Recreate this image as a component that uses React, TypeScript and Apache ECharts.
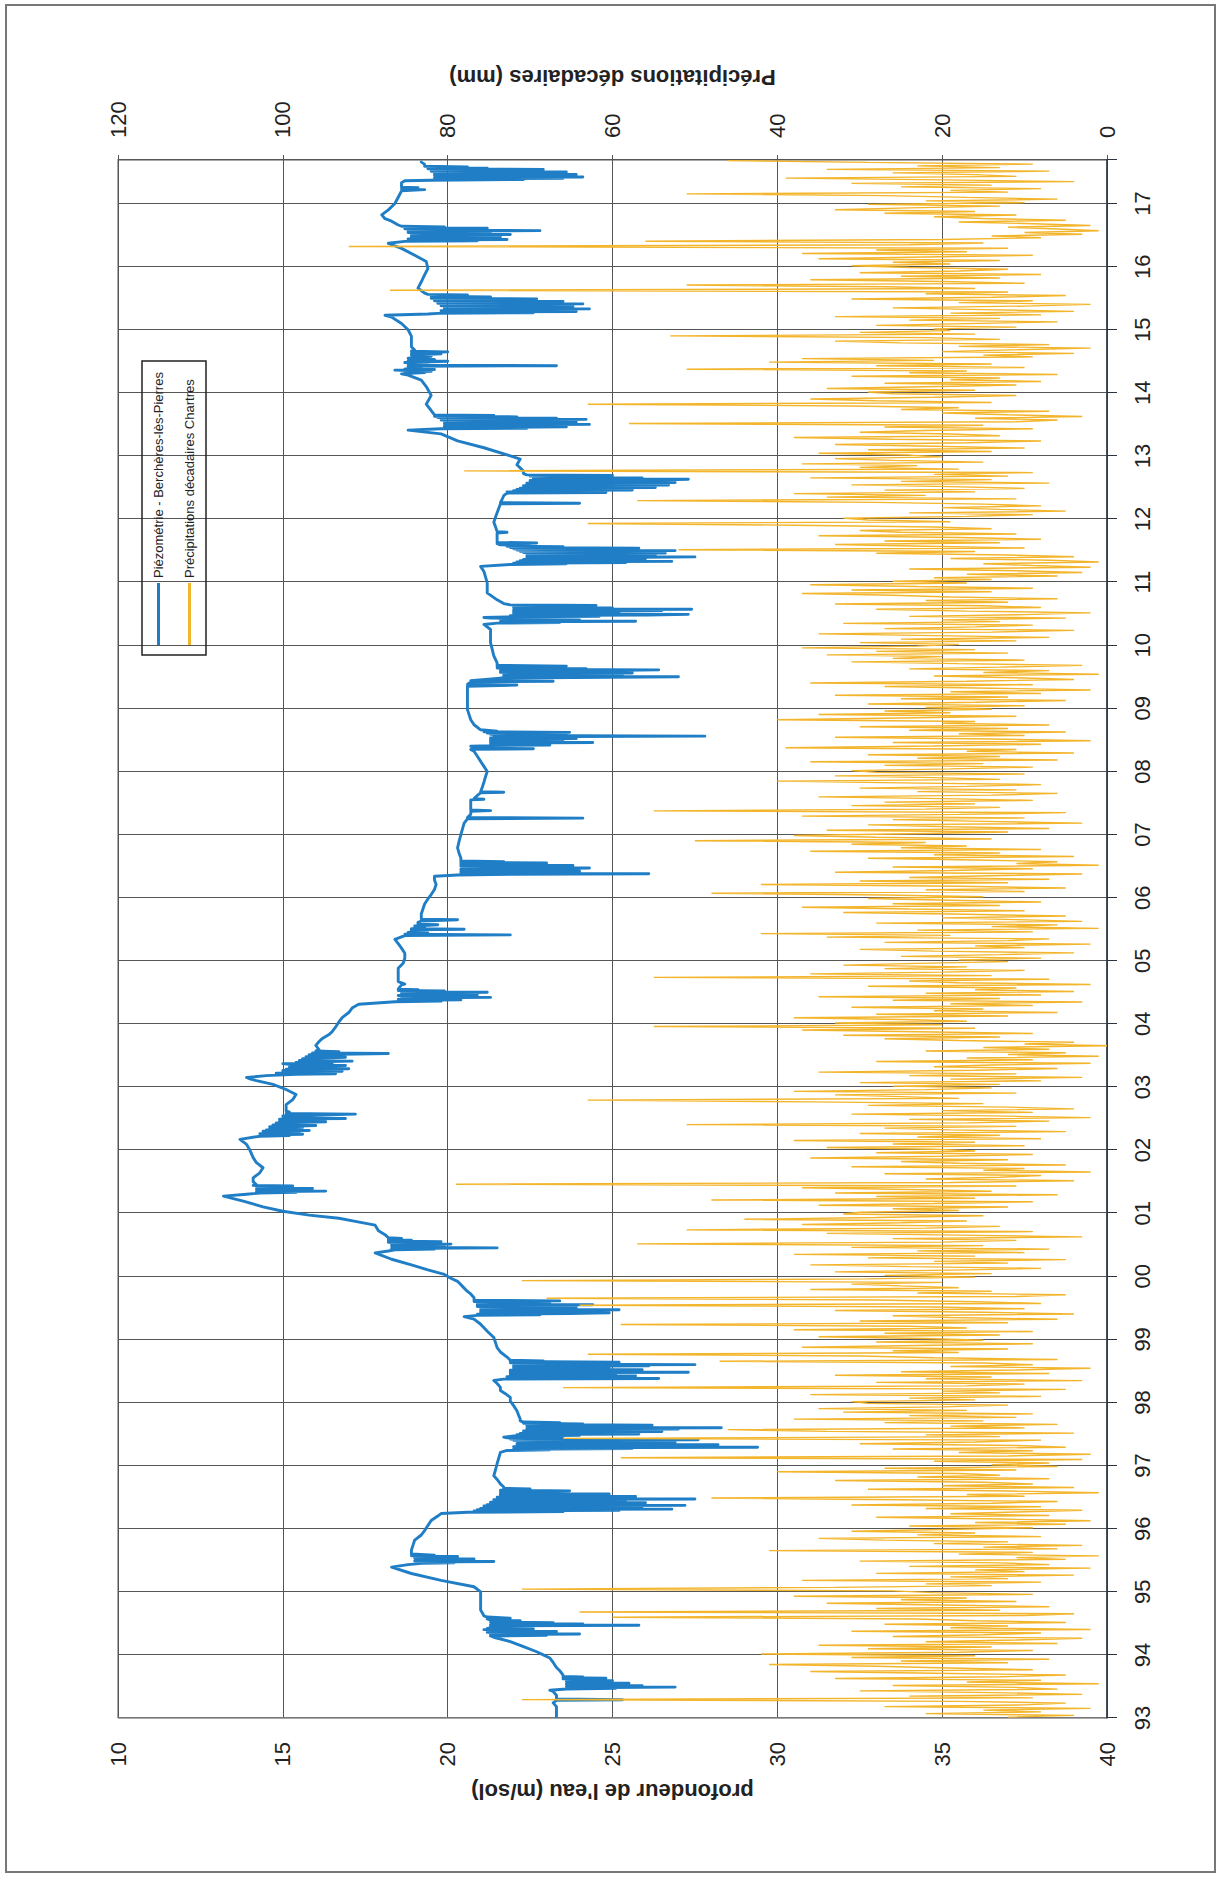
import React, { useEffect, useRef } from 'react';
import * as echarts from 'echarts';

// ---- Data ----
const SERIES_PIEZO = 'Piézométrie - Berchères-lès-Pierres';
const SERIES_PRECIP = 'Précipitations décadaires Chartres';
const DEPTH_TITLE = "profondeur de l'eau (m/sol)";
const PRECIP_TITLE = 'Précipitations décadaires (mm)';

const FIRST_YEAR = 1993;
const LAST_DATE = 2017.69;
const DECADES_PER_YEAR = 36;

// Piezometer depth [decimal year, depth m/sol]
const piezo1993_1997: [number, number][] = [
  [1993.00,23.3],[1993.05,23.3],[1993.12,23.3],[1993.18,23.3],[1993.24,23.2],[1993.28,23.3],[1993.29,25.3],[1993.30,23.3],[1993.36,23.3],[1993.42,23.2],[1993.44,23.1],
  [1993.46,23.6],[1993.47,25.1],[1993.48,23.7],[1993.49,26.9],[1993.50,23.6],[1993.51,25.9],[1993.52,23.8],[1993.53,24.6],[1993.54,23.6],[1993.55,25.5],[1993.56,23.7],[1993.57,24.2],[1993.58,23.6],[1993.59,25.0],[1993.60,23.6],[1993.61,24.4],[1993.62,23.5],[1993.63,24.8],[1993.64,23.5],[1993.65,24.1],[1993.66,23.5],[1993.68,23.5],
  [1993.75,23.4],[1993.80,23.3],[1993.88,23.2],[1993.95,23.1],[1994.00,22.9],[1994.05,22.7],[1994.13,22.3],[1994.21,21.9],[1994.28,21.4],
  [1994.30,21.3],[1994.31,23.0],[1994.32,21.3],[1994.33,24.0],[1994.34,21.4],[1994.35,22.4],[1994.36,21.2],[1994.37,23.3],[1994.38,21.2],[1994.39,21.9],[1994.40,21.1],[1994.41,22.6],[1994.42,21.2],[1994.44,21.4],[1994.46,21.3],[1994.47,25.8],[1994.48,21.3],[1994.49,24.1],[1994.50,21.4],[1994.51,23.2],[1994.52,21.3],[1994.54,22.2],[1994.55,21.3],[1994.57,21.2],[1994.58,21.9],[1994.60,21.2],[1994.62,21.1],
  [1994.71,21.0],[1994.80,21.0],[1994.87,21.0],[1995.00,21.0],[1995.08,20.8],[1995.18,19.8],[1995.29,18.9],[1995.39,18.3],
  [1995.43,18.8],[1995.45,19.2],[1995.46,20.2],[1995.47,19.1],[1995.48,21.4],[1995.49,19.0],[1995.50,20.5],[1995.51,19.1],[1995.52,20.8],[1995.53,19.0],[1995.54,19.9],[1995.55,19.0],[1995.56,20.3],[1995.57,18.9],[1995.58,19.6],[1995.60,18.9],[1995.62,18.9],
  [1995.66,18.9],[1995.74,18.95],[1995.82,19.0],[1995.90,19.2],[1995.97,19.3],[1996.05,19.4],[1996.13,19.5],[1996.20,19.7],[1996.24,19.8],
  [1996.26,20.6],[1996.27,23.5],[1996.28,20.8],[1996.29,25.2],[1996.30,20.9],[1996.31,26.8],[1996.32,21.0],[1996.33,24.3],[1996.34,21.1],[1996.35,25.9],[1996.36,21.1],[1996.37,27.2],[1996.38,21.2],[1996.39,24.8],[1996.40,21.3],[1996.41,26.0],[1996.42,21.3],[1996.43,23.9],[1996.44,21.4],[1996.45,25.4],[1996.46,21.4],[1996.47,27.5],[1996.48,21.5],[1996.49,24.6],[1996.50,21.5],[1996.51,25.7],[1996.52,21.6],[1996.53,23.2],[1996.54,21.6],[1996.55,24.9],[1996.56,21.6],[1996.57,22.8],[1996.58,21.6],[1996.60,23.7],[1996.61,21.6],[1996.63,22.5],[1996.64,21.7],[1996.66,21.7],
  [1996.71,21.6],[1996.78,21.5],[1996.84,21.4],[1996.93,21.45],[1997.03,21.5],[1997.12,21.55],[1997.21,21.6],
  [1997.24,21.8],[1997.25,23.1],[1997.26,22.0],[1997.27,25.6],[1997.28,22.1],[1997.29,29.4],[1997.30,22.0],[1997.31,26.4],[1997.32,22.2],[1997.33,28.2],[1997.34,22.1],[1997.35,24.7],[1997.36,22.2],[1997.37,26.9],[1997.38,22.1],[1997.39,24.2],[1997.40,22.0],[1997.41,27.6],[1997.42,21.9],[1997.43,23.5],[1997.44,21.8],[1997.45,21.7],[1997.47,22.0],[1997.48,24.0],[1997.49,22.1],[1997.50,25.8],[1997.51,22.2],[1997.52,23.6],[1997.53,22.3],[1997.54,26.5],[1997.55,22.3],[1997.56,24.9],[1997.57,22.4],[1997.58,27.0],[1997.59,22.4],[1997.60,28.3],[1997.61,22.5],[1997.62,25.3],[1997.63,22.4],[1997.64,26.2],[1997.65,22.4],[1997.66,24.1],[1997.67,22.3],[1997.68,23.4],[1997.69,22.3],[1997.71,22.2],
  [1997.74,22.2],[1997.80,22.15],[1997.87,22.1],[1997.95,22.0]
];

const piezo1998_2002: [number, number][] = [
  [1998.02,21.9],[1998.08,21.9],[1998.14,21.75],[1998.19,21.6],[1998.24,21.6],[1998.30,21.5],[1998.35,21.4],
  [1998.37,21.7],[1998.38,26.4],[1998.39,21.8],[1998.40,24.6],[1998.41,21.8],[1998.42,25.7],[1998.43,21.9],[1998.44,23.8],[1998.45,21.9],[1998.46,25.1],[1998.47,21.9],[1998.48,27.3],[1998.49,21.9],[1998.50,24.2],[1998.51,21.9],[1998.52,25.9],[1998.53,22.0],[1998.54,23.4],[1998.55,22.0],[1998.56,24.9],[1998.57,22.0],[1998.58,26.1],[1998.59,22.0],[1998.60,27.5],[1998.61,22.0],[1998.62,24.4],[1998.63,21.9],[1998.64,25.2],[1998.65,21.9],[1998.66,22.9],[1998.67,21.9],
  [1998.72,21.8],[1998.80,21.6],[1998.87,21.5],[1998.95,21.45],[1999.03,21.4],[1999.13,21.2],[1999.24,21.0],[1999.32,20.8],[1999.36,20.5],
  [1999.38,20.9],[1999.39,22.8],[1999.40,20.9],[1999.41,23.7],[1999.42,24.9],[1999.43,21.0],[1999.44,23.2],[1999.45,21.0],[1999.46,24.1],[1999.47,25.2],[1999.48,21.0],[1999.49,22.6],[1999.50,21.0],[1999.51,23.9],[1999.52,20.9],[1999.53,22.4],[1999.54,20.9],[1999.55,24.4],[1999.56,20.9],[1999.57,23.1],[1999.58,20.9],[1999.59,22.2],[1999.60,20.8],[1999.61,23.4],[1999.62,20.8],[1999.64,20.8],
  [1999.66,20.8],[1999.72,20.7],[1999.76,20.6],[1999.84,20.45],[1999.92,20.3],[1999.98,20.05],[2000.03,19.9],[2000.10,19.4],[2000.18,18.9],[2000.27,18.3],[2000.37,17.8],
  [2000.40,18.2],[2000.42,18.4],[2000.43,19.6],[2000.44,18.3],[2000.45,21.5],[2000.46,18.4],[2000.47,19.9],[2000.48,18.3],[2000.49,19.2],[2000.50,18.3],[2000.51,20.1],[2000.52,18.3],[2000.53,19.4],[2000.54,18.2],[2000.55,19.8],[2000.56,18.2],[2000.57,18.9],[2000.58,18.2],[2000.60,18.6],[2000.61,18.2],
  [2000.66,18.1],[2000.72,17.9],[2000.81,17.8],[2000.87,17.2],[2000.92,16.7],[2000.97,15.8],[2001.03,15.0],[2001.10,14.4],[2001.19,13.8],[2001.23,13.5],[2001.27,13.2],
  [2001.30,13.9],[2001.32,14.3],[2001.33,15.4],[2001.34,14.2],[2001.35,16.3],[2001.36,14.3],[2001.37,15.1],[2001.38,14.2],[2001.39,15.9],[2001.40,14.3],[2001.41,14.8],[2001.42,14.2],[2001.43,15.3],[2001.44,14.1],[2001.45,14.2],
  [2001.50,14.1],[2001.56,14.1],[2001.64,14.3],[2001.72,14.4],[2001.80,14.2],[2001.88,14.1],[2002.00,14.0],[2002.09,13.9],[2002.17,13.7],
  [2002.22,14.3],[2002.23,15.2],[2002.24,14.4],[2002.25,15.6],[2002.26,14.3],[2002.27,15.0],[2002.28,14.5],[2002.29,15.5],[2002.30,14.4],[2002.31,15.8],[2002.32,14.5],[2002.33,15.1],[2002.34,14.6],[2002.36,15.6],[2002.37,14.6],[2002.39,16.0],[2002.40,14.7],[2002.42,15.2],[2002.43,14.8],[2002.45,16.3],[2002.46,14.9],[2002.48,15.5],[2002.49,14.9],[2002.50,16.9],[2002.51,15.0],[2002.53,15.8],[2002.54,15.0],[2002.56,16.4],[2002.57,17.2],[2002.58,15.1],[2002.60,15.2],
  [2002.62,15.1],[2002.72,15.1],[2002.80,15.3],[2002.88,15.4],[2002.96,15.1]
];

const piezo2003_2007: [number, number][] = [
  [2003.04,14.7],[2003.10,14.2],[2003.13,14.0],[2003.15,13.9],
  [2003.18,14.5],[2003.20,15.4],[2003.21,16.6],[2003.22,14.8],[2003.23,16.2],[2003.24,15.0],[2003.25,16.8],[2003.26,15.0],[2003.27,16.4],[2003.28,15.1],[2003.29,17.0],[2003.30,15.2],[2003.31,16.1],[2003.32,15.2],[2003.34,16.9],[2003.35,15.3],[2003.37,15.0],[2003.38,16.5],[2003.39,15.4],[2003.41,17.1],[2003.42,15.5],[2003.44,16.3],[2003.45,15.6],[2003.47,16.9],[2003.48,15.7],[2003.50,16.4],[2003.51,15.8],[2003.53,18.2],[2003.54,15.9],[2003.56,16.7],[2003.57,16.0],[2003.59,16.1],
  [2003.66,16.0],[2003.72,16.1],[2003.77,16.2],[2003.83,16.4],[2003.88,16.5],[2003.95,16.6],[2004.03,16.7],[2004.10,16.8],[2004.18,17.0],[2004.25,17.1],[2004.31,17.3],
  [2004.35,18.4],[2004.36,19.8],[2004.37,18.5],[2004.38,20.4],[2004.39,18.5],[2004.40,19.1],[2004.41,18.6],[2004.42,21.3],[2004.43,18.6],[2004.44,19.6],[2004.45,18.5],[2004.46,20.9],[2004.47,18.6],[2004.48,19.3],[2004.49,18.6],[2004.50,21.2],[2004.51,18.6],[2004.52,19.9],[2004.53,18.5],[2004.54,19.1],[2004.55,18.5],
  [2004.62,18.6],[2004.63,18.7],[2004.67,18.5],[2004.77,18.5],[2004.88,18.5],[2004.96,18.65],[2005.04,18.7],[2005.12,18.7],[2005.20,18.6],[2005.27,18.5],[2005.34,18.4],
  [2005.38,18.6],[2005.40,18.7],[2005.41,21.9],[2005.42,18.7],[2005.44,19.4],[2005.45,18.8],[2005.47,19.0],[2005.49,18.9],[2005.50,20.5],[2005.51,18.9],[2005.53,19.3],[2005.55,19.0],[2005.57,19.7],[2005.58,19.1],[2005.61,19.1],[2005.63,19.2],[2005.65,20.3],[2005.66,19.2],
  [2005.70,19.2],[2005.74,19.2],[2005.82,19.25],[2005.90,19.3],[2005.98,19.4],[2006.05,19.5],[2006.13,19.6],[2006.21,19.65],[2006.28,19.6],[2006.34,19.6],
  [2006.36,20.3],[2006.37,22.0],[2006.38,26.1],[2006.39,20.4],[2006.40,23.2],[2006.41,20.4],[2006.42,24.0],[2006.43,20.5],[2006.44,22.6],[2006.45,20.4],[2006.46,23.5],[2006.47,24.3],[2006.48,20.5],[2006.49,22.9],[2006.50,20.4],[2006.51,23.8],[2006.52,20.4],[2006.53,22.1],[2006.54,20.4],[2006.55,23.0],[2006.56,20.4],[2006.57,21.7],[2006.58,20.4],[2006.60,20.4],
  [2006.63,20.4],[2006.70,20.35],[2006.79,20.3],[2006.90,20.35],[2007.00,20.4],[2007.09,20.45],[2007.18,20.5],[2007.25,20.6],[2007.26,24.1],[2007.27,20.6],[2007.32,20.7],[2007.37,20.7],[2007.38,21.3],[2007.39,20.7],[2007.46,20.7],[2007.50,20.7],[2007.55,20.7],[2007.56,21.1],[2007.57,20.8],[2007.62,20.9],[2007.66,21.0],[2007.67,21.7],[2007.68,21.0],[2007.75,21.05],[2007.83,21.1],[2007.92,21.15]
];

const piezo2008_2012: [number, number][] = [
  [2008.00,21.2],[2008.08,21.1],[2008.16,21.0],[2008.24,20.9],[2008.32,20.8],[2008.35,20.7],
  [2008.36,22.6],[2008.37,21.0],[2008.39,20.8],[2008.40,20.7],[2008.41,21.3],[2008.42,23.1],[2008.43,21.3],[2008.44,22.4],[2008.45,21.3],[2008.46,24.4],[2008.47,21.3],[2008.48,23.5],[2008.49,21.3],[2008.50,22.8],[2008.51,21.3],[2008.52,23.9],[2008.53,21.3],[2008.54,22.5],[2008.55,21.4],[2008.56,27.8],[2008.57,21.4],[2008.58,23.6],[2008.59,21.3],[2008.60,22.9],[2008.61,21.2],[2008.62,23.7],[2008.63,21.1],[2008.64,21.5],[2008.66,21.0],
  [2008.74,20.8],[2008.82,20.7],[2008.90,20.65],[2008.98,20.6],[2009.08,20.6],[2009.19,20.6],[2009.27,20.6],[2009.35,20.6],[2009.37,22.1],[2009.38,20.6],[2009.42,20.7],[2009.43,23.2],[2009.44,20.7],[2009.45,20.7],
  [2009.48,21.6],[2009.49,23.8],[2009.50,27.0],[2009.51,21.7],[2009.52,25.3],[2009.53,21.7],[2009.54,24.1],[2009.55,21.7],[2009.56,25.6],[2009.57,21.6],[2009.58,23.4],[2009.59,21.6],[2009.60,24.8],[2009.61,26.4],[2009.62,21.6],[2009.63,24.2],[2009.64,21.5],[2009.65,22.8],[2009.66,21.5],[2009.67,23.6],[2009.68,21.5],[2009.70,21.5],
  [2009.72,21.5],[2009.83,21.4],[2009.94,21.35],[2010.04,21.3],[2010.15,21.3],[2010.25,21.3],[2010.33,21.1],
  [2010.35,21.5],[2010.36,23.4],[2010.37,21.6],[2010.38,25.7],[2010.39,21.7],[2010.40,24.0],[2010.41,21.6],[2010.42,22.8],[2010.43,21.3],[2010.44,21.1],[2010.45,21.8],[2010.46,24.6],[2010.47,21.9],[2010.48,26.1],[2010.49,27.3],[2010.50,22.0],[2010.51,25.2],[2010.52,22.0],[2010.53,24.3],[2010.54,22.0],[2010.55,26.5],[2010.56,22.0],[2010.57,27.4],[2010.58,22.1],[2010.59,25.0],[2010.60,22.0],[2010.61,23.6],[2010.62,22.0],[2010.63,24.5],[2010.64,21.9],[2010.66,21.7],
  [2010.72,21.5],[2010.83,21.2],[2010.92,21.2],[2010.99,21.2],[2011.08,21.15],[2011.17,21.1],[2011.25,21.0],
  [2011.28,21.9],[2011.29,23.6],[2011.30,22.0],[2011.31,25.4],[2011.32,22.1],[2011.33,26.8],[2011.34,22.2],[2011.35,24.3],[2011.36,22.3],[2011.37,26.0],[2011.38,22.4],[2011.39,25.1],[2011.40,27.5],[2011.41,22.4],[2011.42,26.3],[2011.43,22.5],[2011.44,24.9],[2011.45,22.4],[2011.46,26.6],[2011.47,22.3],[2011.48,25.5],[2011.49,22.2],[2011.50,26.9],[2011.51,22.1],[2011.52,24.0],[2011.53,22.0],[2011.54,25.8],[2011.55,21.9],[2011.56,23.5],[2011.57,21.8],[2011.58,22.5],[2011.59,21.6],
  [2011.61,21.5],[2011.62,22.7],[2011.63,21.5],[2011.70,21.5],[2011.78,21.5],[2011.79,21.8],[2011.80,21.5],[2011.88,21.45],[2011.95,21.4],[2012.03,21.45],[2012.10,21.5],[2012.17,21.55],[2012.24,21.6],[2012.25,24.0],[2012.26,21.6],[2012.31,21.65],[2012.37,21.7],[2012.41,21.8],
  [2012.42,24.8],[2012.43,21.8],[2012.44,23.2],[2012.45,22.0],[2012.46,25.6],[2012.47,22.1],[2012.48,24.4],[2012.49,22.2],[2012.50,26.3],[2012.51,22.3],[2012.52,24.9],[2012.53,22.3],[2012.54,26.7],[2012.55,22.4],[2012.56,25.2],[2012.57,22.4],[2012.58,26.9],[2012.59,22.5],[2012.60,25.5],[2012.61,22.5],[2012.62,26.2],[2012.63,27.3],[2012.64,22.6],[2012.65,25.9],[2012.66,22.6],[2012.67,24.2],[2012.68,22.5],[2012.69,25.0],[2012.70,22.4],[2012.72,22.3],
  [2012.76,22.3],[2012.86,22.1],[2012.95,22.2]
];

const piezo2013_2017: [number, number][] = [
  [2013.00,21.9],[2013.13,21.1],[2013.24,20.3],[2013.35,19.8],[2013.41,18.8],
  [2013.43,19.8],[2013.44,22.4],[2013.45,19.9],[2013.46,23.6],[2013.47,19.9],[2013.48,22.9],[2013.49,20.0],[2013.50,24.3],[2013.51,19.9],[2013.52,23.1],[2013.53,20.0],[2013.54,23.9],[2013.55,19.9],[2013.56,22.6],[2013.57,19.8],[2013.58,24.2],[2013.59,19.8],[2013.60,23.3],[2013.61,19.7],[2013.62,22.1],[2013.63,19.6],[2013.64,21.4],[2013.65,19.6],
  [2013.72,19.5],[2013.82,19.35],[2013.96,19.5],[2014.10,19.35],[2014.20,19.2],[2014.28,18.8],[2014.30,18.6],
  [2014.32,19.3],[2014.33,18.7],[2014.34,19.5],[2014.36,18.4],[2014.37,19.6],[2014.38,18.7],[2014.40,19.2],[2014.42,18.8],[2014.43,23.3],[2014.44,18.8],[2014.46,19.4],[2014.48,18.7],[2014.50,20.0],[2014.51,18.8],[2014.53,19.6],[2014.55,18.8],[2014.58,19.5],[2014.60,18.9],[2014.62,19.8],[2014.63,18.9],[2014.65,20.0],[2014.66,18.9],[2014.68,19.0],
  [2014.73,18.9],[2014.90,18.9],[2015.00,18.8],[2015.10,18.6],[2015.20,18.3],[2015.23,18.1],
  [2015.25,19.4],[2015.26,19.7],[2015.27,22.6],[2015.28,19.8],[2015.29,23.9],[2015.30,19.8],[2015.31,22.2],[2015.32,19.9],[2015.33,24.3],[2015.34,19.9],[2015.35,23.1],[2015.36,19.9],[2015.37,23.8],[2015.38,19.8],[2015.39,22.4],[2015.40,19.8],[2015.41,24.1],[2015.42,19.7],[2015.43,22.9],[2015.44,19.7],[2015.45,23.5],[2015.46,19.6],[2015.47,21.8],[2015.48,19.6],[2015.49,22.7],[2015.50,19.5],[2015.52,21.3],[2015.53,19.5],[2015.55,20.6],[2015.56,19.4],
  [2015.58,19.3],[2015.66,19.1],[2015.76,19.2],[2015.87,19.3],[2015.97,19.4],[2016.08,19.35],[2016.18,19.0],[2016.29,18.6],[2016.37,18.2],
  [2016.40,18.7],[2016.41,20.9],[2016.42,18.8],[2016.43,21.8],[2016.44,18.8],[2016.45,20.4],[2016.46,18.9],[2016.47,21.6],[2016.48,18.9],[2016.49,20.7],[2016.50,18.9],[2016.51,21.9],[2016.52,18.9],[2016.53,20.2],[2016.54,18.8],[2016.55,21.3],[2016.56,18.8],[2016.57,22.8],[2016.58,18.8],[2016.59,20.8],[2016.60,18.7],[2016.61,21.2],[2016.62,18.7],[2016.63,19.9],[2016.64,18.6],[2016.66,18.5],
  [2016.72,18.3],[2016.76,18.1],[2016.82,18.0],[2016.90,18.2],[2017.00,18.4],[2017.10,18.5],[2017.20,18.6],[2017.22,19.3],[2017.23,18.6],[2017.25,19.1],[2017.26,18.6],[2017.33,18.6],[2017.36,18.7],
  [2017.37,19.5],[2017.38,22.3],[2017.39,19.6],[2017.40,23.5],[2017.41,19.6],[2017.42,24.1],[2017.43,19.7],[2017.44,22.8],[2017.45,19.6],[2017.46,23.9],[2017.47,19.6],[2017.48,22.2],[2017.49,19.6],[2017.50,23.6],[2017.51,19.5],[2017.52,21.9],[2017.53,19.5],[2017.54,22.9],[2017.55,19.4],[2017.56,21.2],[2017.57,19.4],[2017.58,20.6],[2017.59,19.3],
  [2017.62,19.3],[2017.66,19.2],[2017.68,19.2]
];

// Ten-day precipitation (mm), 36 décades per year
const p1993 = [12,4,22,8,15,2,27,10,5,18,71,9,24,3,14,30,6,11,26,1,17,8,33,13,5,21,36,9,19,28,41,12,25,7,31,16];
const p1994 = [42,18,9,29,14,35,6,22,11,3,26,15,8,31,2,19,12,27,5,16,23,60,10,4,64,13,28,7,20,34,11,25,17,38,9,21];
const p1995 = [26,71,33,14,22,8,37,12,19,4,28,10,16,2,24,7,13,30,5,11,1,18,9,41,6,15,3,21,12,27,35,8,23,16,31,20];
const p1996 = [9,24,5,16,2,13,28,7,19,11,3,22,8,31,14,6,25,48,10,17,1,12,29,4,20,9,15,33,7,23,13,18,40,11,27,6];
const p1997 = [14,7,21,3,59,12,2,18,9,26,5,11,30,16,8,66,13,22,4,34,46,10,19,6,27,15,38,11,24,9,32,17,35,20,12,29];
const p1998 = [31,16,24,8,36,13,20,5,66,17,10,28,3,22,14,33,7,25,11,2,19,9,15,47,6,21,30,63,18,26,12,37,23,9,28,15];
const p1999 = [22,35,13,27,9,38,17,24,59,12,30,6,19,26,4,15,33,10,21,64,8,16,28,68,11,5,23,14,36,18,25,31,20,71,29,16];
const p2000 = [27,14,33,19,8,24,36,12,21,5,29,16,38,10,23,7,31,15,57,20,11,26,3,18,34,9,51,22,13,37,25,17,44,28,15,32];
const p2001 = [30,18,26,12,35,21,9,48,16,28,6,33,14,24,37,11,79,19,4,22,13,8,27,2,15,10,31,5,18,25,12,36,20,9,28,16];
const p2002 = [21,34,10,26,16,38,8,23,13,30,5,19,27,11,51,17,7,24,2,14,31,9,20,4,12,29,15,36,63,18,25,33,11,38,22,14];
const p2003 = [26,13,30,8,19,3,24,11,35,16,6,21,14,2,28,9,17,1,12,5,22,7,15,0,10,4,18,27,13,32,9,23,37,16,55,20];
const p2004 = [33,17,25,38,12,28,6,21,15,31,9,19,3,26,13,35,8,22,4,16,11,29,2,18,24,7,55,14,36,20,10,27,17,32,23,12];
const p2005 = [18,8,25,13,4,21,30,10,16,2,27,12,7,34,19,42,9,23,1,14,6,28,3,11,20,5,17,32,10,24,37,13,26,8,19,29];
const p2006 = [15,27,48,10,22,5,18,42,12,30,7,24,14,3,33,19,9,26,1,11,6,16,29,4,21,13,36,8,25,17,31,22,50,14,28,38];
const p2007 = [24,12,34,7,19,29,3,15,26,10,37,18,5,55,22,13,31,16,27,9,20,35,14,6,23,11,30,17,8,25,40,13,21,33,10,28];
const p2008 = [31,19,9,27,15,36,6,23,13,29,4,17,11,39,21,8,26,2,14,33,10,18,5,24,12,30,7,20,16,40,25,11,35,19,27,14];
const p2009 = [22,10,29,16,5,25,12,33,8,19,2,14,27,9,36,17,4,11,21,1,15,7,24,13,3,18,31,10,26,20,34,12,28,16,37,23];
const p2010 = [18,30,11,25,7,21,35,14,4,27,16,9,32,13,20,5,24,10,2,17,28,8,15,33,12,22,6,19,26,37,14,31,9,23,36,17];
const p2011 = [26,14,21,6,17,3,11,24,2,9,15,1,7,19,4,12,28,16,52,10,22,33,13,27,8,18,35,11,25,30,14,21,38,63,19,29];
const p2012 = [32,17,9,24,5,13,20,8,15,28,57,11,34,22,38,16,27,10,19,31,7,25,14,36,12,21,9,78,18,30,23,37,15,26,33,20];
const p2013 = [24,35,14,29,10,21,33,17,8,26,38,13,19,30,22,9,27,15,58,11,6,16,3,12,20,7,25,18,31,63,14,28,36,21,11,26];
const p2014 = [29,16,34,22,11,27,8,19,13,31,6,24,17,51,10,28,14,41,21,37,9,15,4,20,12,2,18,7,25,33,13,22,53,16,30,19];
const p2015 = [21,11,28,17,6,24,13,33,8,19,4,15,26,10,2,18,9,31,14,5,22,12,87,16,27,51,10,20,36,13,25,8,30,18,12,24];
const p2016 = [31,19,26,13,35,22,9,37,17,28,12,92,24,15,56,20,8,14,3,10,1,6,12,2,9,18,5,15,21,11,27,16,33,24,13,29];
const p2017 = [10,22,6,17,27,51,12,19,8,25,14,31,4,20,39,11,16,26,7,34,13,23,9,29,46];

const depthTicks = { min: 10, max: 40, interval: 5 };
const precipTicks = { min: 0, max: 120, interval: 20 };

// ---- Build ----
const piezo = [...piezo1993_1997, ...piezo1998_2002, ...piezo2003_2007, ...piezo2008_2012, ...piezo2013_2017];
const precipValues = [
  ...p1993, ...p1994, ...p1995, ...p1996, ...p1997, ...p1998, ...p1999, ...p2000, ...p2001,
  ...p2002, ...p2003, ...p2004, ...p2005, ...p2006, ...p2007, ...p2008, ...p2009, ...p2010,
  ...p2011, ...p2012, ...p2013, ...p2014, ...p2015, ...p2016, ...p2017,
];
const precip = precipValues.map((v, i) => [FIRST_YEAR + (i + 0.5) / DECADES_PER_YEAR, v]);

const FONT = "'Liberation Sans', Arial, sans-serif";
const BLUE = '#1F7EC5';
const ORANGE = '#F3B52C';
const GRID = '#555555';

export default function App() {
  const ref = useRef<HTMLDivElement>(null);
  useEffect(() => {
    if (!ref.current) return;
    const chart = echarts.init(ref.current, null, { renderer: 'svg' });
    chart.setOption({
      animation: false,
      backgroundColor: '#ffffff',
      textStyle: { fontFamily: FONT },
      grid: {
        left: 163, right: 160, top: 118, bottom: 113,
        show: true, borderColor: GRID, borderWidth: 1, backgroundColor: 'transparent',
      },
      legend: {
        show: true,
        orient: 'vertical',
        left: 1226,
        top: 142,
        itemWidth: 62,
        itemHeight: 3,
        itemGap: 18,
        itemGap2: 0,
        padding: [10, 11, 10, 10],
        borderColor: '#222',
        borderWidth: 1.5,
        textStyle: { fontSize: 13, color: '#222', fontFamily: FONT },
        data: [
          { name: SERIES_PIEZO, icon: 'rect' },
          { name: SERIES_PRECIP, icon: 'rect' },
        ],
      },
      xAxis: {
        type: 'value',
        min: FIRST_YEAR,
        max: LAST_DATE,
        interval: 1,
        axisLine: { show: true, onZero: false, lineStyle: { color: '#2c3440', width: 1.5 } },
        axisTick: { show: true, length: 10, lineStyle: { color: '#2c3440' } },
        axisLabel: {
          margin: 24, fontSize: 22, color: '#222', fontFamily: FONT,
          formatter: (v: number) => (Number.isInteger(v) ? String(v).slice(2) : ''),
        },
        splitLine: { show: true, lineStyle: { color: GRID, width: 1 } },
      },
      yAxis: [
        {
          type: 'value',
          position: 'left',
          min: depthTicks.min, max: depthTicks.max, interval: depthTicks.interval,
          inverse: true,
          name: DEPTH_TITLE,
          nameLocation: 'middle',
          nameRotate: 90,
          nameGap: 62,
          nameTextStyle: { fontSize: 22, fontWeight: 'bold', color: '#222', fontFamily: FONT },
          axisLine: { show: true, lineStyle: { color: '#777' } },
          axisTick: { show: false },
          axisLabel: { margin: 24, fontSize: 22, color: '#222', fontFamily: FONT },
          splitLine: { show: true, lineStyle: { color: GRID, width: 1 } },
        },
        {
          type: 'value',
          position: 'right',
          min: precipTicks.min, max: precipTicks.max, interval: precipTicks.interval,
          name: PRECIP_TITLE,
          nameLocation: 'middle',
          nameRotate: 90,
          nameGap: 72,
          nameTextStyle: { fontSize: 22, fontWeight: 'bold', color: '#222', fontFamily: FONT },
          axisLine: { show: true, lineStyle: { color: GRID } },
          axisTick: { show: true, length: 5, lineStyle: { color: GRID } },
          axisLabel: { margin: 22, fontSize: 22, color: '#222', fontFamily: FONT },
          splitLine: { show: false },
        },
      ],
      series: [
        {
          type: 'line',
          name: SERIES_PIEZO,
          data: piezo,
          yAxisIndex: 0,
          symbol: 'none',
          showSymbol: false,
          lineStyle: { color: BLUE, width: 2.9, join: 'round' },
          itemStyle: { color: BLUE },
          z: 2,
        },
        {
          type: 'line',
          name: SERIES_PRECIP,
          data: precip,
          yAxisIndex: 1,
          symbol: 'none',
          showSymbol: false,
          lineStyle: { color: ORANGE, width: 1.4 },
          itemStyle: { color: ORANGE },
          z: 3,
        },
      ],
      graphic: [
        {
          type: 'rect',
          shape: { x: 9, y: 6, width: 1867, height: 1209 },
          style: { fill: 'none', stroke: '#777', lineWidth: 2 },
          silent: true,
          z: 0,
        },
      ],
    });
    return () => chart.dispose();
  }, []);

  return (
    <div style={{ position: 'absolute', left: 0, top: 0, width: 1220, height: 1881, overflow: 'hidden', background: '#fff' }}>
      <div
        ref={ref}
        style={{
          position: 'absolute', left: 0, top: 0, width: 1881, height: 1220,
          transformOrigin: '0 0', transform: 'translate(0px, 1881px) rotate(-90deg)',
        }}
      />
    </div>
  );
}
